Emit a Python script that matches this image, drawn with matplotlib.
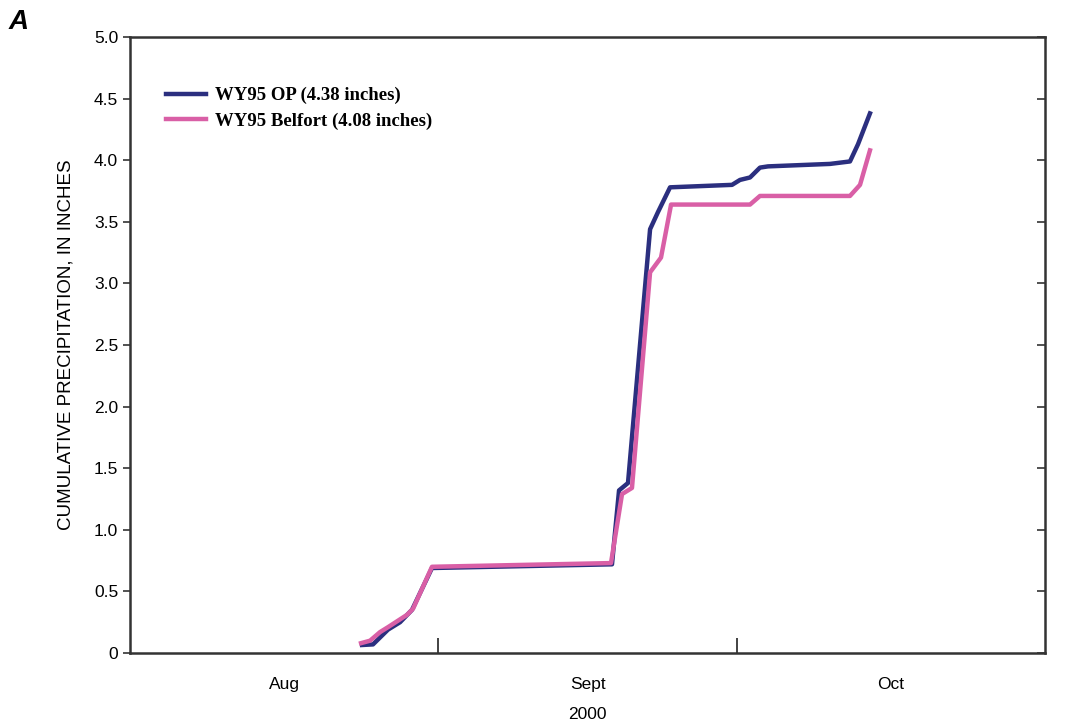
import numpy as np
import matplotlib.pyplot as plt
from matplotlib.ticker import FixedLocator, FuncFormatter

# days since 2000-08-01
op_days = [23.33, 24.43, 25.94, 27.15, 28.35, 30.36, 48.46, 49.17, 50.07,
           52.29, 53.09, 54.30, 60.53, 61.33, 62.34, 63.34, 64.15, 70.38,
           72.39, 73.20, 74.40]
op_precip = [0.065, 0.07, 0.19, 0.25, 0.35, 0.69, 0.72, 1.32, 1.38,
             3.44, 3.58, 3.78, 3.80, 3.84, 3.86, 3.94, 3.95, 3.97,
             3.99, 4.13, 4.38]

bel_days = [23.23, 24.13, 25.14, 25.94, 27.85, 28.46, 30.36, 48.36, 49.47,
            50.47, 52.29, 53.39, 54.40, 62.34, 63.34, 72.39, 73.40, 74.40]
bel_precip = [0.08, 0.10, 0.17, 0.21, 0.31, 0.36, 0.70, 0.73, 1.29,
              1.34, 3.09, 3.21, 3.64, 3.64, 3.71, 3.71, 3.80, 4.08]

month_edges = [0, 31, 61, 92]
month_names = ["Aug", "Sept", "Oct"]

plt.rcParams['font.family'] = ['Liberation Sans', 'DejaVu Sans']

fig = plt.figure(figsize=(10.73, 7.23), dpi=100)
ax = fig.add_axes([0.1212, 0.0968, 0.8527, 0.852])

ax.plot(op_days, op_precip, color="#2b2f7f", lw=3.2,
        solid_joinstyle="round", label="WY95 OP (4.38 inches)")
ax.plot(bel_days, bel_precip, color="#d95fa6", lw=3.2,
        solid_joinstyle="round", label="WY95 Belfort (4.08 inches)")

ax.set_xlim(month_edges[0], month_edges[-1])
ax.set_ylim(0, 5.0)

ax.set_yticks(np.arange(0, 5.01, 0.5))
ax.yaxis.set_major_formatter(FuncFormatter(lambda v, p: "0" if v == 0 else f"{v:.1f}"))
ax.tick_params(axis="y", which="major", direction="out", length=5, width=1.2,
               labelsize=12.5, color="#333333", right=True)

ax.xaxis.set_major_locator(FixedLocator(month_edges[1:-1]))
ax.xaxis.set_major_formatter(FuncFormatter(lambda v, p: ""))
centers = [(month_edges[i] + month_edges[i + 1]) / 2 for i in range(3)]
ax.xaxis.set_minor_locator(FixedLocator(centers))
ax.set_xticklabels(month_names, minor=True)
ax.tick_params(axis="x", which="major", direction="in", length=11, width=1.2, color="#222222")
ax.tick_params(axis="x", which="minor", length=0, labelsize=12.5, pad=17)

# right side ticks point inward
for t in ax.yaxis.get_major_ticks():
    t.tick2line.set_marker(0)
    t.tick2line.set_markersize(6)

for s in ax.spines.values():
    s.set_linewidth(1.8)
    s.set_color("#333333")

ax.set_ylabel("CUMULATIVE PRECIPITATION, IN INCHES", fontsize=13.5, labelpad=14)
ax.set_xlabel("2000", fontsize=12.5, labelpad=11)

leg = ax.legend(loc="upper left", bbox_to_anchor=(0.021, 0.946), frameon=False,
                handlelength=2.1, handletextpad=0.5, labelspacing=0.42,
                prop={"family": "Liberation Serif", "weight": "bold", "size": 13.5})

fig.text(0.008, 0.96, "A", fontsize=20, fontweight="bold", fontstyle="italic")

fig.savefig("out.png", dpi=100)
